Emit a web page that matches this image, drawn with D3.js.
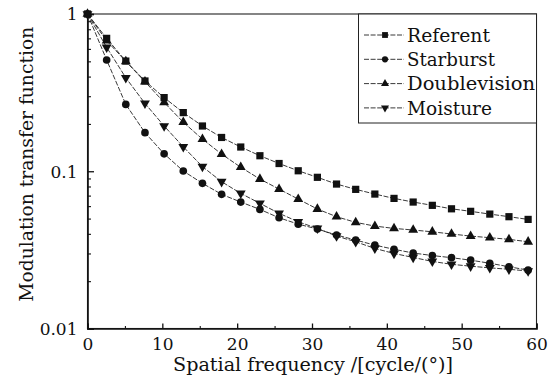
<!DOCTYPE html>
<html><head><meta charset="utf-8">
<script src="https://cdn.jsdelivr.net/npm/d3@7"></script>
<style>
body{margin:0;background:#fff;}
svg{display:block;}
text{font-family:"DejaVu Serif","Liberation Serif",serif;fill:#111;}
</style></head>
<body>
<svg id="c" width="550" height="381"></svg>
<script>
const xValues = [0,2.56,5.12,7.68,10.24,12.8,15.36,17.92,20.48,23.04,25.6,28.16,30.72,33.28,35.84,38.4,40.96,43.52,46.08,48.64,51.2,53.76,56.32,58.88];
const referent = [1,0.700,0.502,0.375,0.294,0.236,0.194,0.164,0.1426,0.1255,0.112,0.1007,0.0915,0.0829,0.0767,0.0716,0.0672,0.0637,0.0607,0.0577,0.0556,0.0534,0.0514,0.0494];
const starburst = [1,0.510,0.266,0.176,0.129,0.1003,0.0838,0.0713,0.0637,0.0572,0.0506,0.0461,0.0429,0.0393,0.0365,0.0339,0.0319,0.0302,0.0291,0.0282,0.0272,0.0260,0.0247,0.0235];
const doublevision = [1,0.676,0.500,0.371,0.274,0.205,0.160,0.1286,0.106,0.0892,0.077,0.0665,0.0575,0.0514,0.0473,0.0448,0.0433,0.0423,0.0412,0.0399,0.0387,0.0378,0.0369,0.0356];
const moisture = [1,0.614,0.393,0.270,0.194,0.143,0.107,0.0858,0.0723,0.0625,0.054,0.0477,0.0433,0.0387,0.0356,0.0323,0.0300,0.0283,0.0267,0.0256,0.0249,0.0243,0.0238,0.0232];
const seriesNames = ["Referent","Starburst","Doublevision","Moisture"];
const xTicks = [0,10,20,30,40,50,60];
const yTicks = [0.01,0.1,1];
const yTickLabels = ["0.01","0.1","1"];
const xLabel = "Spatial frequency /[cycle/(°)]";
const yLabel = "Modulation transfer function";

const series = [
  {name: seriesNames[0], values: referent, sym: d3.symbolSquare},
  {name: seriesNames[1], values: starburst, sym: d3.symbolCircle},
  {name: seriesNames[2], values: doublevision, sym: d3.symbolTriangle},
  {name: seriesNames[3], values: moisture, sym: "down"}
];

const W = 550, H = 381;
const m = {l: 87.5, r: 13.5, t: 14, b: 52.5};
const svg = d3.select("#c");
const x = d3.scaleLinear().domain([0,60]).range([m.l, W - m.r]);
const y = d3.scaleLog().domain([0.01,1]).range([H - m.b, m.t]);

function symPath(sym, size) {
  if (sym === "down") return d3.symbol().type(d3.symbolTriangle).size(size)();
  return d3.symbol().type(sym).size(size)();
}
function symSize(sym, big) {
  if (sym === d3.symbolSquare) return big ? 52 : 34;
  if (sym === d3.symbolCircle) return big ? 46 : 30;
  return big ? 42 : 28;
}

// frame
svg.append("rect").attr("x", m.l).attr("y", m.t)
  .attr("width", W - m.r - m.l).attr("height", H - m.b - m.t)
  .attr("fill", "none").attr("stroke", "#222").attr("stroke-width", 1.1);

// y axis with inner ticks
const yMinor = [];
[0.01, 0.1].forEach(d => { for (let k = 2; k <= 9; k++) yMinor.push(d * k); });
const yAxis = d3.axisLeft(y).tickValues(yTicks).tickSize(-6.5).tickPadding(10)
  .tickFormat((d,i) => yTickLabels[i]);
const gy = svg.append("g").attr("transform", `translate(${m.l},0)`).call(yAxis);
gy.selectAll("line").attr("stroke", "#111").attr("stroke-width", 1.3);
gy.selectAll("text").style("font-size", "17px").attr("dy", "0.34em");
gy.select(".domain").attr("stroke", "#111").attr("stroke-width", 1.6);
svg.append("g").attr("transform", `translate(${m.l},0)`)
  .call(d3.axisLeft(y).tickValues(yMinor).tickSize(-3.5).tickFormat(""))
  .call(g => g.select(".domain").remove())
  .selectAll("line").attr("stroke", "#111").attr("stroke-width", 1.1);

// x axis
const xAxis = d3.axisBottom(x).tickValues(xTicks).tickSize(-5).tickPadding(9).tickFormat(d3.format("d"));
const gx = svg.append("g").attr("transform", `translate(0,${H - m.b})`).call(xAxis);
gx.selectAll("line").attr("stroke", "#111").attr("stroke-width", 1.3);
gx.selectAll("text").style("font-size", "17px").attr("dy", "0.75em");
gx.select(".domain").attr("stroke", "#111").attr("stroke-width", 1.6);
svg.append("g").attr("transform", `translate(0,${H - m.b})`)
  .call(d3.axisBottom(x).tickValues([5,15,25,35,45,55]).tickSize(-2.5).tickFormat(""))
  .call(g => g.select(".domain").remove())
  .selectAll("line").attr("stroke", "#111").attr("stroke-width", 1.1);

// axis labels
svg.append("text").attr("x", (m.l + W - m.r) / 2 + 1).attr("y", 371)
  .attr("text-anchor", "middle").style("font-size", "18.5px")
  .attr("textLength", 280).attr("lengthAdjust", "spacingAndGlyphs").text(xLabel);
svg.append("text").attr("transform", `translate(33,${(m.t + H - m.b)/2 - 7}) rotate(-90)`)
  .attr("text-anchor", "middle").style("font-size", "18.5px")
  .attr("textLength", 275).attr("lengthAdjust", "spacingAndGlyphs").text(yLabel);

// lines
const line = d3.line().x((d,i) => x(xValues[i])).y(d => y(d));
series.forEach(s => {
  svg.append("path").datum(s.values).attr("d", line)
    .attr("fill", "none").attr("stroke", "#222").attr("stroke-width", 0.9)
    .attr("stroke-dasharray", "5,1.6");
});
series.forEach(s => {
  svg.append("g").selectAll("path").data(s.values).join("path")
    .attr("d", symPath(s.sym, symSize(s.sym, true)))
    .attr("transform", (d,i) => `translate(${x(xValues[i])},${y(d)})` + (s.sym === "down" ? " rotate(180)" : ""))
    .attr("fill", "#111");
});

// legend
const lg = svg.append("g");
lg.append("rect").attr("x", 358.5).attr("y", m.t).attr("width", W - m.r - 358.5).attr("height", 109)
  .attr("fill", "#fff").attr("stroke", "#222").attr("stroke-width", 1);
const legendWidths = [83, 88, 128, 85];
series.forEach((s, i) => {
  const cy = 35 + i * 24.3;
  lg.append("line").attr("x1", 364).attr("x2", 404).attr("y1", cy).attr("y2", cy)
    .attr("stroke", "#222").attr("stroke-width", 0.9).attr("stroke-dasharray", "5,1.6");
  lg.append("path").attr("d", symPath(s.sym, symSize(s.sym, false)))
    .attr("transform", `translate(385,${cy})` + (s.sym === "down" ? " rotate(180)" : ""))
    .attr("fill", "#111");
  lg.append("text").attr("x", 407).attr("y", cy).attr("dy", "0.36em")
    .style("font-size", "18.5px").attr("textLength", legendWidths[i])
    .attr("lengthAdjust", "spacingAndGlyphs").text(s.name);
});
</script>
</body></html>
